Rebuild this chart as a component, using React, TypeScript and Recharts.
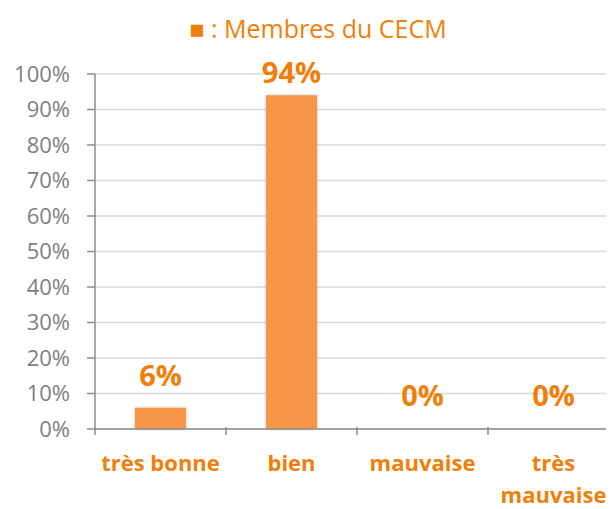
import { Bar, BarChart, CartesianGrid, Cell, LabelList, XAxis, YAxis } from "recharts";

const categories = ["très bonne", "bien", "mauvaise", "très mauvaise"];
const memberShares = [6, 94, 0, 0];
const yTicks = [0, 10, 20, 30, 40, 50, 60, 70, 80, 90, 100];

const data = categories.map((name, i) => ({ name, value: memberShares[i] }));

const W = 614;
const H = 509;
const M = { top: 74, right: -5, left: 0, bottom: 0 };
const Y_AXIS_W = 95;
const X_AXIS_H = 80;
const band = (W - M.left - M.right - Y_AXIS_W) / categories.length;

const ORANGE = "#F07F0A";
const BAR = "#F79646";
const GRAY = "#7F7F7F";
const FONT = "'Open Sans', sans-serif";

// tick with the mark drawn on the left boundary of the category, like excel
const CategoryTick = (props: any) => {
  const { x, y, payload } = props;
  const label: string = payload.value;
  const lines = label.length > 10 ? label.split(" ") : [label];
  return (
    <g>
      <line x1={x - band / 2} x2={x - band / 2} y1={y - 8} y2={y} stroke="#8c8c8c" strokeWidth={1.5} />
      {payload.index === categories.length - 1 && (
        <line x1={x + band / 2} x2={x + band / 2} y1={y - 8} y2={y} stroke="#8c8c8c" strokeWidth={1.5} />
      )}
      <text x={x} y={y + 36} textAnchor="middle" fill={ORANGE} fontWeight="bold" fontSize={22} fontFamily={FONT}>
        {lines.map((l, i) => (
          <tspan key={l} x={x} dy={i === 0 ? 0 : 32}>
            {l}
          </tspan>
        ))}
      </text>
    </g>
  );
};

const ValueLabel = (props: any) => {
  const { x, y, width, value } = props;
  // keep the label inside the plot when the bar is near the top
  const base = Math.max(y - 22, M.top + 9);
  return (
    <text x={x + width / 2} y={base} textAnchor="middle" fill={ORANGE} fontWeight="bold" fontSize={29} fontFamily={FONT}>
      {value}%
    </text>
  );
};

export default function App() {
  return (
    <div style={{ margin: "-8px 0 0 -8px", width: W, height: H }}>
      <BarChart width={W} height={H} data={data} margin={M}>
        <defs>
          <filter id="glow" x="-20%" y="-20%" width="140%" height="140%">
            <feDropShadow dx="0" dy="0" stdDeviation="1.6" floodColor="#000" floodOpacity="0.25" />
          </filter>
        </defs>
        <text x={318} y={38} textAnchor="middle" fontSize={25} fontFamily={FONT} fill={ORANGE}>
          ■ : Membres du CECM
        </text>
        <CartesianGrid vertical={false} stroke="#d9d9d9" strokeWidth={1.5} />
        <XAxis
          dataKey="name"
          height={X_AXIS_H}
          axisLine={{ stroke: "#8c8c8c", strokeWidth: 1.5 }}
          tickLine={false}
          tick={<CategoryTick />}
          interval={0}
          tickMargin={0}
        />
        <YAxis
          width={Y_AXIS_W}
          domain={[0, 100]}
          ticks={yTicks}
          tickFormatter={(v) => `${v}%`}
          axisLine={{ stroke: "#8c8c8c", strokeWidth: 1.5 }}
          tickLine={{ stroke: "#8c8c8c", strokeWidth: 1.5 }}
          tickSize={8}
          tickMargin={17}
          tick={{ fill: GRAY, fontSize: 22, fontFamily: FONT }}
          interval={0}
        />
        <Bar dataKey="value" fill={BAR} barSize={51} minPointSize={1} isAnimationActive={false} filter="url(#glow)">
          {data.map((d) => (
            <Cell key={d.name} fill={d.value === 0 ? "transparent" : BAR} />
          ))}
          <LabelList dataKey="value" content={<ValueLabel />} />
        </Bar>
      </BarChart>
    </div>
  );
}
